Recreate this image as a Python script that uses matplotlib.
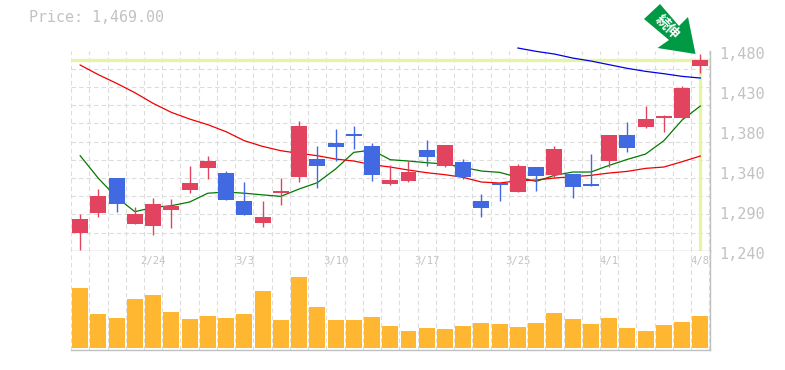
# candlestick + volume, drawn to pixel size 785x370
import matplotlib
matplotlib.use("Agg")
import matplotlib.pyplot as plt
from matplotlib.patches import Polygon
from matplotlib.transforms import ScaledTranslation, IdentityTransform

plt.rcParams["font.family"] = ["DejaVu Sans Mono", "Noto Sans CJK JP"]

tops = [1278.4, 1306, 1327.6, 1284.4, 1296.4, 1294, 1321.6, 1348, 1333.6, 1300, 1280.8, 1312,
        1390, 1350.4, 1369.6, 1380.4, 1366, 1325.2, 1334.8, 1361.2, 1367.2, 1346.8, 1300, 1321.6,
        1342, 1340.8, 1362.4, 1332.4, 1320.4, 1379.2, 1379.2, 1398.4, 1402, 1435.6, 1469.2]
bottoms = [1261.6, 1285.6, 1296.4, 1272.4, 1270, 1289.2, 1313.2, 1339.6, 1301.2, 1283.2, 1273.6, 1309.6,
           1328.8, 1342, 1364.8, 1378, 1331.2, 1320.4, 1324, 1352.8, 1342, 1328.8, 1291.6, 1319.2,
           1310.8, 1330, 1331.2, 1316.8, 1318, 1348, 1363.6, 1388.8, 1399.6, 1399.6, 1462]
highs = [1284.4, 1314.4, 1327.6, 1292.8, 1303.6, 1302.4, 1342, 1354, 1336, 1322.8, 1300, 1327.6,
         1396, 1366, 1386.4, 1390, 1369.6, 1343.2, 1348, 1373.2, 1367.2, 1350.4, 1308.4, 1321.6,
         1344.4, 1340.8, 1366, 1332.4, 1356.4, 1379.2, 1394.8, 1414, 1403.2, 1438, 1476.4]
lows = [1241.2, 1280.8, 1286.8, 1272.4, 1259.2, 1267.6, 1309.6, 1326.4, 1301.2, 1283.2, 1268.8, 1295.2,
        1322.8, 1315.6, 1348, 1362.4, 1324, 1319.2, 1322.8, 1342, 1340.8, 1326.4, 1280.8, 1300,
        1310.8, 1312, 1327.6, 1303.6, 1318, 1340.8, 1358.8, 1387.6, 1382.8, 1399.6, 1453.6]
# True = red (up), False = blue (down)
up = [True, True, False, True, True, True, True, True, False, False, True, True,
      True, False, False, False, False, True, True, False, True, False, False, False,
      True, False, True, False, False, True, False, True, True, True, True]

ma_short = [1354, 1326.8, 1304, 1286.8, 1292, 1294, 1298.4, 1309, 1310.4, 1309, 1307, 1305.2,
            1314, 1321.6, 1338, 1358, 1360.8, 1349.2, 1347.6, 1345.6, 1344, 1340, 1335.6, 1334,
            1328, 1323.2, 1330.4, 1334.4, 1334.4, 1342.4, 1349.6, 1356, 1372, 1396.8, 1413.6]
ma_mid = [1462.8, 1451.2, 1440.8, 1429.6, 1416.8, 1406, 1398, 1391.2, 1382.8, 1372, 1365.2, 1360,
          1356.8, 1354, 1350, 1347.6, 1343.2, 1340.4, 1336.8, 1333.6, 1331.2, 1328, 1322.4, 1321.2,
          1324, 1324.8, 1327.2, 1328.8, 1330.4, 1333.2, 1335.2, 1338.8, 1340.4, 1346.8, 1353.6]
ma_long = [1483.2, 1479.2, 1476, 1471.2, 1467.6, 1463.2, 1458.8, 1455.2, 1452.4, 1449.2, 1447.2]
ma_long_start = 24

volume = [60, 34, 30, 49, 53, 36, 29, 32, 30, 34, 57, 28, 71, 41, 28, 28, 31, 22,
          17, 20, 19, 22, 25, 24, 21, 25, 35, 29, 24, 30, 20, 17, 23, 26, 32]

date_pos = [4, 9, 14, 19, 24, 29, 34]
date_labels = ["2/24", "3/3", "3/10", "3/17", "3/25", "4/1", "4/8"]
price_ticks = [1240, 1288, 1336, 1384, 1432, 1480]
price_labels = ["1,240", "1,290", "1,340", "1,380", "1,430", "1,480"]
last_price = 1469

RED = "#e2445f"
BLUE = "#4169e1"
HILITE = "#e4f6a4"
GRID = "#dcdcdc"
AXIS = "#c0c0c0"
TXT = "#c2c2c2"
W, H = 785, 370

fig = plt.figure(figsize=(W / 100, H / 100), dpi=100)
L, R = 70.5, 710
ax = fig.add_axes([L / W, 1 - 250.7 / H, (R - L) / W, 200 / H])
axv = fig.add_axes([L / W, 1 - 350 / H, (R - L) / W, 99.3 / H])

xlim = (-0.53, 34.53)
n = len(tops)
xs = list(range(n))
grid_x = [i - 0.5 for i in range(n + 1)]

# price panel
ax.set_xlim(xlim)
ax.set_ylim(1240, 1480)
ax.set_xticks(grid_x)
ax.set_yticks([1240 + 240 * k / 11 for k in range(12)], minor=True)
ax.set_yticks(price_ticks, price_labels)
ax.grid(True, which="minor", axis="y", color=GRID, lw=0.8, ls=(0, (4, 2.8)))
ax.grid(True, which="major", axis="x", color=GRID, lw=0.8, ls=(0, (4, 2.8)))
ax.set_axisbelow(True)
ax.yaxis.tick_right()
ax.tick_params(axis="x", length=0, labelbottom=False)
ax.tick_params(axis="y", which="both", length=0, pad=6.5, labelsize=11, labelcolor=TXT)
for lab in ax.get_yticklabels():
    lab.set_transform(lab.get_transform() + ScaledTranslation(0, -2.5 / 100, fig.dpi_scale_trans))
for s in ["top", "left"]:
    ax.spines[s].set_visible(False)
for s in ["bottom", "right"]:
    ax.spines[s].set_color(AXIS)
    ax.spines[s].set_linewidth(1.0)

# current price marker
ax.axhline(last_price, color=HILITE, lw=2.4, zorder=1.5)
ax.axvline(n - 1, color=HILITE, lw=2.4, ymax=(last_price - 1240) / 240, zorder=1.5)

ax.plot(xs, ma_short, color="#007a00", lw=0.9, zorder=2)
ax.plot(xs, ma_mid, color="#f00000", lw=0.9, zorder=2)
ax.plot(range(ma_long_start, n), ma_long, color="#0000e6", lw=0.9, zorder=2, clip_on=False)

for i in xs:
    c = RED if up[i] else BLUE
    ax.vlines(i, lows[i], highs[i], color=c, lw=1.0, zorder=3)
    ax.bar(i, tops[i] - bottoms[i], bottom=bottoms[i], width=0.875, color=c, lw=0, zorder=3)

# volume panel
axv.set_xlim(xlim)
axv.set_ylim(-2, 97.3)
axv.bar(xs, volume, width=0.875, color="#ffb732", lw=0, zorder=3)
axv.set_xticks(grid_x, minor=True)
axv.set_xticks(date_pos, date_labels)
axv.set_yticks([])
axv.grid(True, which="minor", axis="x", color=GRID, lw=0.8, ls=(0, (4, 2.8)))
axv.grid(False, which="major")
axv.set_axisbelow(True)
axv.tick_params(axis="x", which="both", length=0, bottom=False, labelbottom=False,
                top=False, labeltop=True, pad=-11, labelsize=7.6, labelcolor=TXT)
for s in ["top", "left"]:
    axv.spines[s].set_visible(False)
for s in ["bottom", "right"]:
    axv.spines[s].set_color(AXIS)
    axv.spines[s].set_linewidth(1.0)

fig.text(29 / W, 1 - 18 / H, f"Price: {last_price:,.2f}", color=TXT, fontsize=10.8, va="center", ha="left")

# green arrow badge, in image pixels
arrow_px = [(660, 4), (644, 19), (669, 40), (657.5, 48), (695.5, 54), (688, 17), (679, 26)]
fig.add_artist(Polygon([(x, H - y) for x, y in arrow_px], closed=True, color="#009944", lw=0,
                       transform=IdentityTransform(), zorder=5))
fig.text(667 / W, 1 - 27 / H, "続伸", color="white", fontsize=10, fontweight="bold",
         rotation=-45, rotation_mode="anchor", ha="center", va="center", zorder=6,
         family=["Noto Sans CJK JP", "DejaVu Sans"])

fig.savefig("out.png", dpi=100)
